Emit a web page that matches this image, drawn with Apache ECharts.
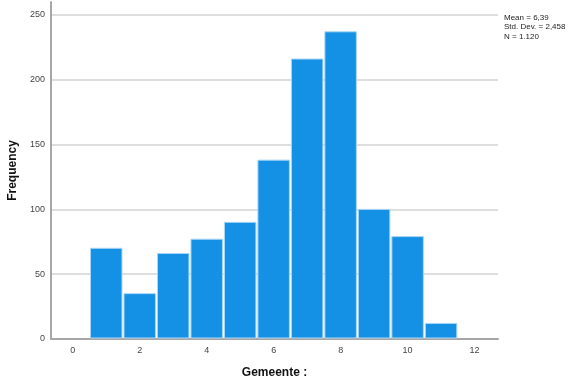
<!DOCTYPE html>
<html><head><meta charset="utf-8">
<script src="https://cdn.jsdelivr.net/npm/echarts@6/dist/echarts.min.js"></script>
<style>html,body{margin:0;padding:0;background:#fff}#c{width:571px;height:380px}</style>
</head><body><div id="c"></div>
<script>
const binCenters = [1,2,3,4,5,6,7,8,9,10,11];
const frequencies = [70,35,66,77,90,138,216,237,100,79,12];
const xTickLabels = [0,2,4,6,8,10,12];
const statsLines = ['Mean = 6,39','Std. Dev. = 2,458','N = 1.120'];
const xTitle = 'Gemeente :';
const yTitle = 'Frequency';

const chart = echarts.init(document.getElementById('c'));
chart.setOption({
  animation:false,
  backgroundColor:'#fff',
  grid:{left:51,right:73,top:2,bottom:41,outerBoundsMode:'none',containLabel:false},
  xAxis:{type:'value',min:-0.65,max:12.7,
    axisLine:{show:true,onZero:false,lineStyle:{color:'#a6a6a6',width:2}},
    axisTick:{show:false},
    splitLine:{show:false},
    axisLabel:{customValues:xTickLabels,color:'#444',fontFamily:'Arial',fontSize:9,margin:7},
    name:xTitle,nameLocation:'middle',nameGap:28,
    nameTextStyle:{fontFamily:'Arial',fontWeight:'bold',fontSize:12,color:'#111'}
  },
  yAxis:{type:'value',min:0,max:260,interval:50,
    axisLine:{show:true,onZero:false,lineStyle:{color:'#a6a6a6',width:2}},
    axisTick:{show:false},
    splitLine:{show:true,showMaxLine:false,showMinLine:false,lineStyle:{color:'#dedede',width:2}},
    axisLabel:{showMaxLabel:false,color:'#444',fontFamily:'Arial',fontSize:9,margin:6},
    name:yTitle,nameLocation:'middle',nameGap:28,
    nameTextStyle:{fontFamily:'Arial',fontWeight:'bold',fontSize:12,color:'#111'}
  },
  graphic:[{type:'text',left:504,top:13,style:{text:statsLines.join('\n'),font:'8px Arial',fill:'#222',lineHeight:9.5}}],
  series:[{type:'custom',
    data:binCenters.map((c,i)=>[c,frequencies[i]]),
    renderItem:function(params,api){
      const x=api.value(0), v=api.value(1);
      const p1=api.coord([x-0.5,v]), p2=api.coord([x+0.5,0]);
      return {type:'rect',shape:{x:p1[0]+1,y:p1[1],width:p2[0]-p1[0]-2,height:p2[1]-p1[1]-1},
        style:{fill:'#1490e5',stroke:'#aad6f6',lineWidth:1}};
    }
  }]
});
</script></body></html>
